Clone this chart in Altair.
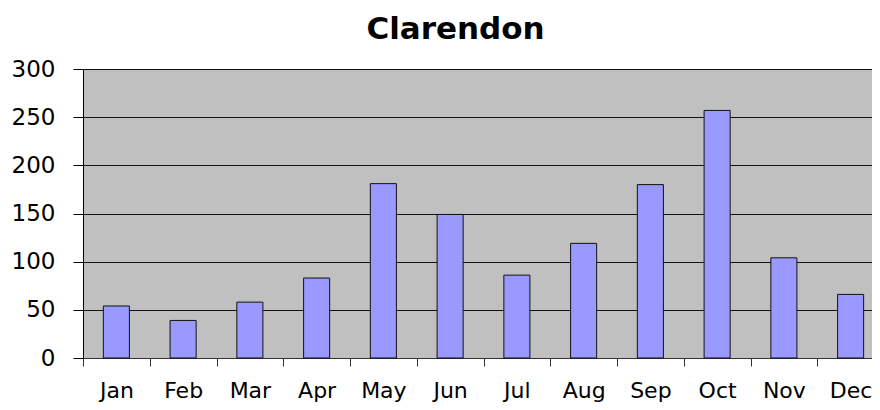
import altair as alt
import pandas as pd

months = ["Jan", "Feb", "Mar", "Apr", "May", "Jun", "Jul", "Aug", "Sep", "Oct", "Nov", "Dec"]
rainfall = [54, 39, 58, 83, 181, 149, 86, 119, 180, 257, 104, 66]
y_ticks = [0, 50, 100, 150, 200, 250, 300]

df = pd.DataFrame({"month": months, "value": rainfall})

FONT = "DejaVu Sans"

chart = alt.Chart(df).mark_bar(
    color="#9999FF", stroke="#111111", strokeWidth=1,
    width=alt.RelativeBandSize(0.39)
).encode(
    x=alt.X("month:N", sort=months, title=None,
            scale=alt.Scale(paddingInner=0, paddingOuter=0),
            axis=alt.Axis(labelAngle=0, tickBand="extent", tickSize=8, labelPadding=14,
                          labelFont=FONT, labelFontSize=22, labelColor="black",
                          domainColor="#333333", tickColor="#333333", grid=False,
                          labelOverlap=False)),
    y=alt.Y("value:Q", title=None,
            scale=alt.Scale(domain=[0, 300], nice=False, zero=True),
            axis=alt.Axis(values=y_ticks, tickSize=10, labelPadding=18,
                          labelFont=FONT, labelFontSize=23, labelColor="black",
                          labelFlush=False, labelOverlap=False,
                          grid=True, gridColor="#111111", gridOpacity=1,
                          domainColor="black", tickColor="black")),
).properties(
    width=801, height=289,
    title=alt.TitleParams("Clarendon", font=FONT, fontSize=31, fontWeight="bold",
                          color="black", dx=-28, offset=12),
    autosize=alt.AutoSizeParams(type="none"),
    padding={"left": 75, "top": 61, "right": -12, "bottom": 44},
).configure_view(fill="#C0C0C0", stroke="#808080")

chart.save("out.html", embed_options={"renderer": "svg", "actions": False})
